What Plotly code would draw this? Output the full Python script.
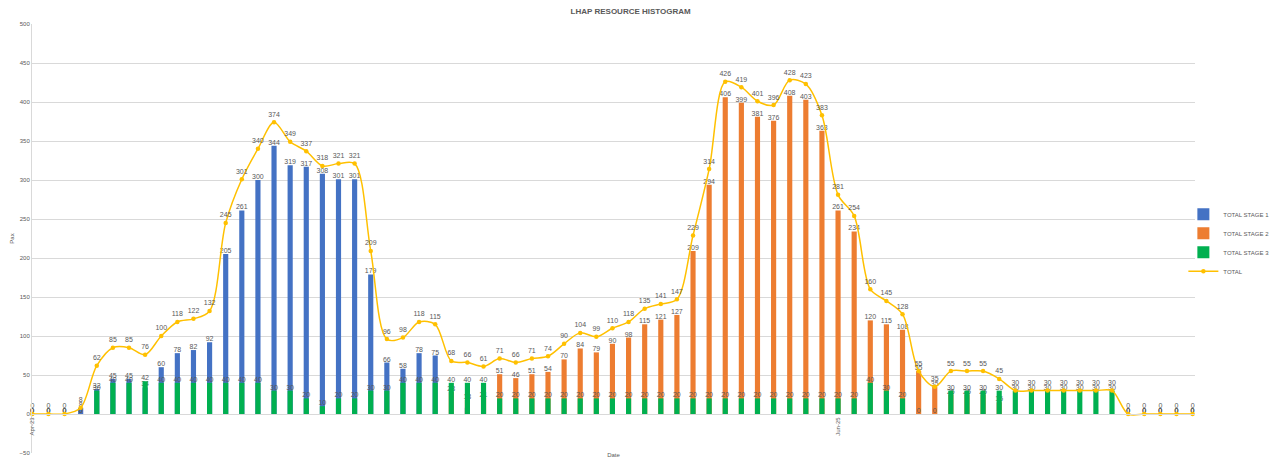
import plotly.graph_objects as go

# Category positions (periods); only two are labelled on the axis
n_periods = 73
periods = list(range(n_periods))
tick_positions = [0, 50]
tick_labels = ["Apr-23", "Jun-25"]

stage1 = [0, 0, 0, 8, 32, 45, 45, 34, 60, 78, 82, 92, 205, 261, 300, 344, 319, 317, 308, 301,
          301, 179, 66, 58, 78, 75, 0, 8, 0, 0, 0, 0, 0, 0, 0, 0, 0, 0, 0, 0,
          0, 0, 0, 0, 0, 0, 0, 0, 0, 0, 0, 0, 0, 0, 0, 0, 0, 0, 0, 0,
          0, 0, 0, 0, 0, 0, 0, 0, 0, 0, 0, 0, 0]

stage2 = [0, 0, 0, 0, 0, 0, 0, 0, 0, 0, 0, 0, 0, 0, 0, 0, 0, 0, 0, 0,
          0, 0, 0, 0, 0, 0, 28, 18, 21, 51, 46, 51, 54, 70, 84, 79, 90, 98, 115, 121,
          127, 209, 294, 406, 399, 381, 376, 408, 403, 363, 261, 234, 120, 115, 108, 55, 35, 25, 25, 25,
          15, 0, 0, 0, 0, 0, 0, 0, 0, 0, 0, 0, 0]

stage3 = [0, 0, 0, 0, 30, 40, 40, 42, 40, 40, 40, 40, 40, 40, 40, 30, 30, 20, 10, 20,
          20, 30, 30, 40, 40, 40, 40, 40, 40, 20, 20, 20, 20, 20, 20, 20, 20, 20, 20, 20,
          20, 20, 20, 20, 20, 20, 20, 20, 20, 20, 20, 20, 40, 30, 20, 0, 0, 30, 30, 30,
          30, 30, 30, 30, 30, 30, 30, 30, 0, 0, 0, 0, 0]

total = [0, 0, 0, 8, 62, 85, 85, 76, 100, 118, 122, 132, 245, 301, 340, 374, 349, 337, 318, 321,
         321, 209, 96, 98, 118, 115, 68, 66, 61, 71, 66, 71, 74, 90, 104, 99, 110, 118, 135, 141,
         147, 229, 314, 426, 419, 401, 396, 428, 423, 383, 281, 254, 160, 145, 128, 55, 35, 55, 55, 55,
         45, 30, 30, 30, 30, 30, 30, 30, 0, 0, 0, 0, 0]

FONT = "Liberation Sans"
GREY = "#595959"
label_font = dict(family=FONT, size=7, color=GREY)

fig = go.Figure()
for name, vals, col in [("TOTAL STAGE 1", stage1, "#4472C4"),
                        ("TOTAL STAGE 2", stage2, "#ED7D31"),
                        ("TOTAL STAGE 3", stage3, "#00B050")]:
    fig.add_trace(go.Bar(
        x=periods, y=vals, name=name, marker=dict(color=col, line=dict(width=0)),
        width=0.32, text=[str(v) for v in vals], textposition="outside",
        constraintext="none", cliponaxis=False, textfont=label_font,
    ))

fig.add_trace(go.Scatter(
    x=periods, y=total, name="TOTAL", mode="lines+markers+text",
    line=dict(color="#FFC000", width=1.5, shape="spline", smoothing=0.9),
    marker=dict(color="#FFC000", size=4.5),
    text=[str(v) for v in total], textposition="top center", textfont=label_font,
    cliponaxis=False,
))

fig.update_layout(
    width=1269, height=458,
    margin=dict(l=32, r=74, t=24, b=5, autoexpand=False),
    barmode="overlay",
    plot_bgcolor="white", paper_bgcolor="white",
    font=dict(family=FONT, color=GREY, size=7),
    title=dict(text="<b>LHAP RESOURCE HISTOGRAM</b>", x=0.497, xanchor="center",
               y=0.976, yanchor="middle", font=dict(family=FONT, size=8, color=GREY)),
    legend=dict(x=0.99, xanchor="left", y=0.49, yanchor="middle",
                font=dict(family=FONT, size=6, color=GREY), tracegroupgap=0,
                itemwidth=30, bgcolor="rgba(0,0,0,0)"),
    showlegend=True,
)

fig.update_yaxes(range=[-50, 500], dtick=50, showgrid=True, gridcolor="#D9D9D9", gridwidth=1,
                 zeroline=False, showline=True, linecolor="#D9D9D9",
                 tickfont=dict(family=FONT, size=6, color=GREY), ticks="",
                 title=dict(text="Pax", font=dict(family=FONT, size=6, color=GREY), standoff=4),
                 automargin=False)

fig.update_xaxes(range=[-0.02, 72.15], tickmode="array", tickvals=tick_positions,
                 ticktext=tick_labels, tickangle=-90, showgrid=False, zeroline=False,
                 showline=True, linecolor="#D9D9D9", anchor="free", position=50 / 550,
                 tickfont=dict(family=FONT, size=6, color=GREY), ticks="",
                 title=dict(text="Date", font=dict(family=FONT, size=6, color=GREY), standoff=22),
                 automargin=False)

fig.write_html("out.html", config={"displayModeBar": False},
               post_script="document.body.style.margin='0';document.body.style.overflow='hidden';")
